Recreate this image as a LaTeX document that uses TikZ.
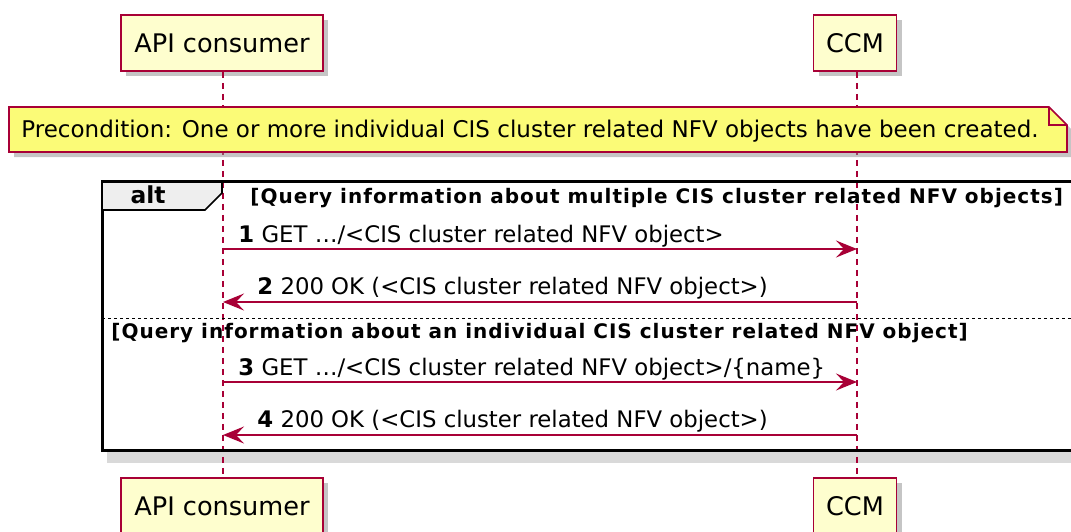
\documentclass[tikz,border=0pt]{standalone}
\usepackage{fontspec}
\setmainfont{DejaVu Sans}
\usetikzlibrary{arrows.meta,shadows}
\definecolor{pumlred}{HTML}{A80036}
\definecolor{partfill}{HTML}{FEFECE}
\definecolor{notefill}{HTML}{FBFB77}
\definecolor{tabfill}{HTML}{EEEEEE}
\begin{document}
\begin{tikzpicture}[x=0.5pt, y=-0.5pt,
  part/.style={draw=pumlred, fill=partfill, line width=0.8pt, minimum height=28pt, inner sep=0pt,
    font=\fontsize{12.8}{15}\selectfont,
    drop shadow={shadow xshift=2.5pt, shadow yshift=-2.5pt, fill=black!45, opacity=0.5}},
  life/.style={draw=pumlred, line width=0.6pt, dash pattern=on 3pt off 2.5pt},
  msg/.style={draw=pumlred, line width=0.7pt, -{Stealth[length=10.5pt, width=8.5pt, inset=4pt]}},
  msgtext/.style={anchor=base west, inner sep=0pt, font=\fontsize{11.4}{14}\selectfont},
  guard/.style={anchor=base west, inner sep=0pt, font=\bfseries\fontsize{10}{12}\selectfont\addfontfeatures{LetterSpace=5}},
]
\useasboundingbox (0,0) rectangle (1071,531);
\clip (0,0) rectangle (1071,531);
\fill[black!15] (107,190) rectangle (1090,463);
\fill[white] (102,181) rectangle (1085,450);
\node[part, minimum width=101pt] (papi) at (222,43){API consumer};
\node[part, minimum width=41.5pt] (pccm) at (855,43){CCM};
\node[part, minimum width=101pt] (bapi) at (222,506){API consumer};
\node[part, minimum width=41.5pt] (bccm) at (855,506){CCM};
\draw[life]([xshift=0.5pt]papi.south) -- ([xshift=0.5pt]bapi.north);
\draw[life]([xshift=1pt]pccm.south) -- ([xshift=1pt]bccm.north);
\fill[black!45, opacity=0.5, xshift=2.5pt, yshift=-2.5pt] (9,107) -- (1049,107) -- (1067,125) -- (1067,152) -- (9,152) -- cycle;
\draw[pumlred, fill=notefill, line width=0.8pt] (9,107) -- (1049,107) -- (1067,125) -- (1067,152) -- (9,152) -- cycle;
\draw[pumlred, line width=0.8pt] (1049,107) -- (1049,125) -- (1067,125);
\node[msgtext, font=\fontsize{11.5}{14}\selectfont] (note) at (21,137){Precondition: One or more individual CIS cluster related NFV objects have been created.};
\draw[line width=1.5pt] (102,181) rectangle (1085,450);
\draw[fill=tabfill, line width=0.8pt] (102,181) -- (222,181) -- (222,193) -- (205,210) -- (102,210) -- cycle;
\draw[line width=1.5pt] (102,181) -- (1085,181);
\node[anchor=base, inner sep=0pt, font=\bfseries\fontsize{11.7}{14}\selectfont] (alt) at (148,203){alt};
\node[guard] (g1) at (250,203){[Query information about multiple CIS cluster related NFV objects]};
\draw[line width=0.5pt, dash pattern=on 1.5pt off 1.5pt] (102,318) -- (1085,318);
\node[guard] (g2) at (111,338){[Query information about an individual CIS cluster related NFV object]};
\coordinate (m1a) at (223,249);
\coordinate (m1c) at (857,249);
\coordinate (m2a) at (223,302);
\coordinate (m2c) at (857,302);
\coordinate (m3a) at (223,382);
\coordinate (m3c) at (857,382);
\coordinate (m4a) at (223,435);
\coordinate (m4c) at (857,435);
\node[msgtext] (t1) at (238,242){\textbf{1} GET …/<CIS cluster related NFV object>};
\draw[msg](m1a) -- (m1c);
\node[msgtext] (t2) at (257,294){\textbf{2} 200 OK (<CIS cluster related NFV object>)};
\draw[msg](m2c) -- (m2a);
\node[msgtext] (t3) at (238,375){\textbf{3} GET …/<CIS cluster related NFV object>/\{name\}};
\draw[msg](m3a) -- (m3c);
\node[msgtext] (t4) at (257,427){\textbf{4} 200 OK (<CIS cluster related NFV object>)};
\draw[msg](m4c) -- (m4a);
\end{tikzpicture}
\end{document}
